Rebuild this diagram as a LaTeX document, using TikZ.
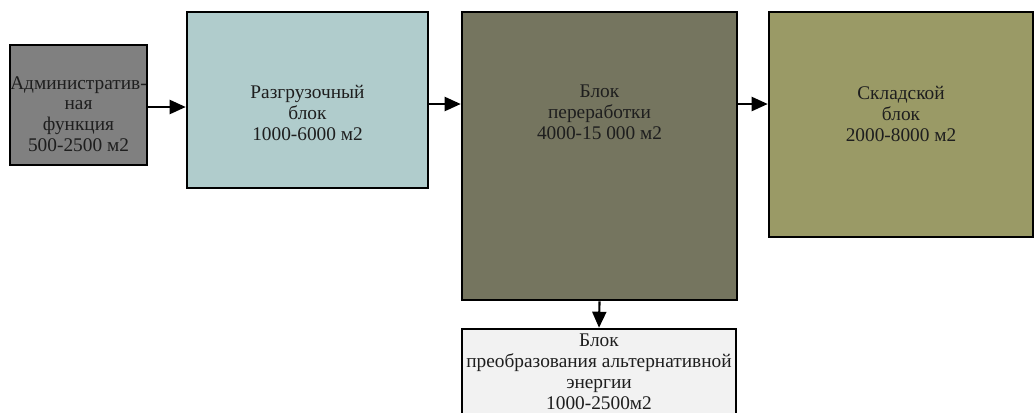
\documentclass[tikz,border=0pt]{standalone}
\usepackage{fontspec}
\setmainfont{Liberation Serif}
\usetikzlibrary{arrows.meta}
\definecolor{adminfill}{RGB}{128,128,128}
\definecolor{unloadfill}{RGB}{176,204,204}
\definecolor{procfill}{RGB}{117,117,95}
\definecolor{warefill}{RGB}{154,154,102}
\definecolor{energyfill}{RGB}{242,242,242}
\definecolor{inktext}{RGB}{30,30,30}
\tikzset{
  blk/.style={draw=black, line width=1.9pt, inner sep=0pt, rectangle},
  lbl/.style={font=\fontsize{14.5pt}{15.6pt}\selectfont, text=inktext, align=center, inner sep=0pt, anchor=north},
  arr/.style={line width=1.6pt, -{Triangle[length=12pt,width=10.5pt]}}
}
\begin{document}
\begin{tikzpicture}[x=0.75pt,y=-0.75pt]
\useasboundingbox (0,0) rectangle (1034,412);
\clip (0,0) rectangle (1034,412);
% blocks
\node[blk, fill=adminfill, minimum width=137*0.75pt, minimum height=120*0.75pt] (admin) at (78.5,105) {};
\node[blk, fill=unloadfill, minimum width=241*0.75pt, minimum height=176*0.75pt] (unl) at (307.5,100) {};
\node[blk, fill=procfill, minimum width=275*0.75pt, minimum height=288*0.75pt] (proc) at (599.5,156) {};
\node[blk, fill=warefill, minimum width=264*0.75pt, minimum height=225*0.75pt] (ware) at (901,124.5) {};
\node[blk, fill=energyfill, minimum width=274*0.75pt, minimum height=120*0.75pt] (energy) at (599,389) {};
% labels
\node[lbl] (adminT) at (78.5,76) {Административ-\\ная\\функция\\500-2500 м2};
\node[lbl] (unlT) at (307.5,85) {Разгрузочный\\блок\\1000-6000 м2};
\node[lbl] (procT) at (599.5,85) {Блок\\переработки\\4000-15 000 м2};
\node[lbl] (wareT) at (901,86) {Складской\\блок\\2000-8000 м2};
\node[lbl] (energyT) at (599,334) {Блок\\преобразования альтернативной\\энергии\\1000-2500м2};
% connectors
\draw[arr] ([yshift=-1.5pt]admin.east) -- ([yshift=-1.5pt]admin.east -| unl.west);
\draw[arr] ([yshift=-3pt]unl.east) -- ([yshift=-3pt]unl.east -| proc.west);
\draw[arr] ([yshift=-3pt]unl.east -| proc.east) -- ([yshift=-3pt]unl.east -| ware.west);
\draw[arr] (proc.south) -- (energy.north);
\end{tikzpicture}
\end{document}
